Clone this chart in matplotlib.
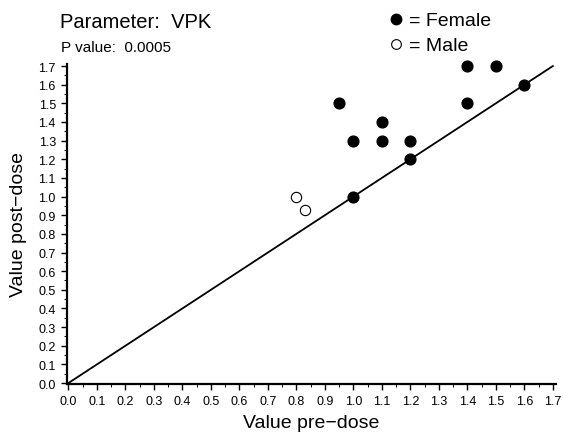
import matplotlib.pyplot as plt
from matplotlib.ticker import MultipleLocator
from matplotlib.lines import Line2D

plt.rcParams['font.family'] = ['Liberation Sans', 'DejaVu Sans']

# datos
female_pre = [0.95, 1.0, 1.0, 1.1, 1.1, 1.2, 1.2, 1.4, 1.4, 1.5, 1.6]
female_post = [1.5, 1.3, 1.0, 1.4, 1.3, 1.3, 1.2, 1.7, 1.5, 1.7, 1.6]
male_pre = [0.80, 0.83]
male_post = [1.00, 0.93]
ticks = [round(i * 0.1, 1) for i in range(18)]

fig = plt.figure(figsize=(5.63, 4.35), dpi=100)
ax = fig.add_axes([0.119, 0.115, 0.869, 0.736])

ax.plot([0, 1.7], [0, 1.7], color='black', lw=1.3, zorder=1, clip_on=False)
ax.scatter(female_pre, female_post, s=60, color='black', zorder=3, clip_on=False)
ax.scatter(male_pre, male_post, s=55, facecolors='white', edgecolors='black',
           linewidths=0.8, zorder=3, clip_on=False)

ax.set_xlim(-0.005, 1.712)
ax.set_ylim(-0.005, 1.712)
ax.set_xticks(ticks)
ax.set_yticks(ticks)
ax.set_xticklabels([f'{t:.1f}' for t in ticks])
ax.set_yticklabels([f'{t:.1f}' for t in ticks])
ax.xaxis.set_minor_locator(MultipleLocator(0.05))
ax.yaxis.set_minor_locator(MultipleLocator(0.05))
ax.tick_params(which='major', length=4, width=1, labelsize=9, pad=4)
ax.tick_params(which='minor', length=2, width=0.7)

for s in ['top', 'right']:
    ax.spines[s].set_visible(False)
for s in ['left', 'bottom']:
    ax.spines[s].set_linewidth(1.6)

ax.set_xlabel('Value pre\u2212dose', fontsize=14, labelpad=5)
ax.set_ylabel('Value post\u2212dose', fontsize=14, labelpad=8)

fig.text(0.106, 0.935, 'Parameter:  VPK', fontsize=14.5)
fig.text(0.108, 0.88, 'P value:  0.0005', fontsize=11)

# leyenda manual
fig.add_artist(Line2D([0.703], [0.954], marker='o', ms=7.5, color='black',
                      linestyle='none', transform=fig.transFigure))
fig.add_artist(Line2D([0.703], [0.897], marker='o', ms=7, markerfacecolor='white',
                      markeredgecolor='black', markeredgewidth=0.8,
                      linestyle='none', transform=fig.transFigure))
fig.text(0.726, 0.940, '= Female', fontsize=14)
fig.text(0.726, 0.882, '= Male', fontsize=14)

plt.savefig('out.png')
